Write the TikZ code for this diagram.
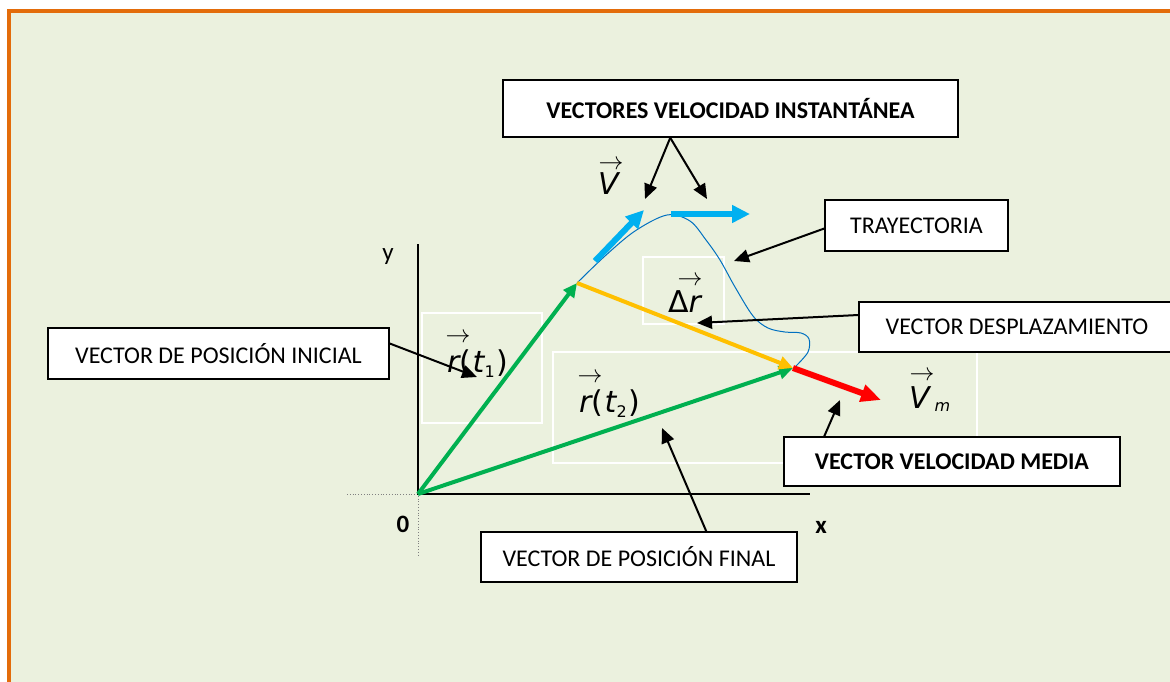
\documentclass[tikz,border=0pt]{standalone}
\usepackage{fontspec}
\setmainfont{Carlito}
\newfontfamily\labfont{DejaVu Sans}
\usetikzlibrary{arrows.meta}
\definecolor{bgc}{HTML}{EBF1DE}
\definecolor{brd}{HTML}{E36C0A}
\definecolor{grn}{HTML}{00B050}
\definecolor{ylw}{HTML}{FFC000}
\definecolor{cyn}{HTML}{00B0F0}
\definecolor{blu}{HTML}{0070C0}
\definecolor{rdd}{HTML}{FF0000}
\begin{document}
\begin{tikzpicture}[x=1pt,y=-1pt,
  lbox/.style={draw=black, line width=1.5pt, fill=white, inner sep=0pt, font=\fontsize{24}{28}\selectfont},
  callout/.style={line width=2pt, -{Triangle[length=15pt,width=13pt]}},
  ghost/.style={draw=white, line width=1.2pt},
  lab/.style={inner sep=0pt, anchor=base west, font=\labfont\fontsize{30}{34}\selectfont},
  vecarr/.style={inner sep=0pt, font=\fontsize{24}{28}\selectfont},
  axlab/.style={inner sep=0pt, anchor=base, font=\fontsize{25}{28}\selectfont},
  garrow/.style={grn, line width=4pt, -{Triangle[length=14pt,width=13pt]}},
  yarrow/.style={ylw, line width=4pt, -{Triangle[length=14pt,width=13pt]}},
  carrow/.style={cyn, line width=6pt, -{Triangle[length=18pt,width=17pt]}},
  rarrow/.style={rdd, line width=6pt, -{Triangle[length=20pt,width=17pt]}}
]
\clip (0,0) rectangle (1170,681);
\fill[white] (0,0) rectangle (1170,681);
\fill[bgc] (9,11) rectangle (1175,690);
\draw[brd, line width=3.7pt] (9.2,690) -- (9.2,10.8) -- (1175,10.8);

% ghost boxes
\draw[ghost] (422,313) rectangle (542,423);
\draw[ghost] (643,257) rectangle (724,324);
\draw[ghost] (553,352) rectangle (977,463);

% axes
\coordinate (O) at (418,494);
\draw[gray, dotted, line width=0.8pt] (347,494) -- (O) -- (418,557);
\draw[black, line width=1.5pt] (418,244) -- (O) -- (810,494);
\node[axlab] (ylab) at (388,260) {y};
\node[axlab] (zlab) at (403,532) {\bfseries 0};
\node[axlab] (xlab) at (821,533) {\bfseries x};

% trajectory
\coordinate (P1) at (577,283);
\coordinate (P2) at (793,368);
\draw[blu, line width=1pt] plot[smooth, tension=0.55] coordinates {(577,283) (605,256) (635,231) (667,215) (690,221) (706,240) (720,260) (735,287) (753,316) (768,328) (785,332) (801,333) (809,339) (808,352) (796,366)};

% vectors
\draw[garrow] (O) -- (P1);
\draw[garrow] (O) -- (P2);
\draw[yarrow] (P1) -- (P2);
\coordinate (VmTip) at (881,400);
\draw[rarrow] (P2) -- (VmTip);
\coordinate (c1a) at (595,261); \coordinate (c1b) at (644,210);
\coordinate (c2a) at (671,214); \coordinate (c2b) at (750,214);
\draw[carrow] (c1a) -- (c1b);
\draw[carrow] (c2a) -- (c2b);

% math labels
\node[lab] (rt1) at (447,372) {{\itshape r}(\kern1.5pt{\itshape t}\raisebox{-5pt}{\fontsize{16}{16}\selectfont 1}\kern2pt)};
\node[vecarr] (rt1a) at (458,338) {$\rightarrow$};
\node[lab] (rt2) at (579,412) {{\itshape r}(\kern1.5pt{\itshape t}\raisebox{-5pt}{\fontsize{16}{16}\selectfont 2}\kern2pt)};
\node[vecarr] (rt2a) at (590,378) {$\rightarrow$};
\node[lab] (dr) at (668,312) {Δ{\itshape r}};
\node[vecarr] (dra) at (690,281) {$\rightarrow$};
\node[lab] (vt) at (598,194) {{\itshape V}};
\node[vecarr] (vta) at (611,165) {$\rightarrow$};
\node[lab] (vm) at (909,408) {{\itshape V}\kern5pt\raisebox{-3pt}{\fontsize{16}{16}\selectfont\itshape m}};
\node[vecarr] (vma) at (922,376) {$\rightarrow$};

% callout boxes
\node[lbox, minimum width=455pt, minimum height=57pt] (inst) at (730.5,108.5) {\bfseries VECTORES VELOCIDAD INSTANTÁNEA};
\node[lbox, minimum width=183pt, minimum height=51pt] (tray) at (916.5,225.5) {TRAYECTORIA};
\node[lbox, minimum width=316pt, minimum height=50pt] (desp) at (1017,327) {VECTOR DESPLAZAMIENTO};
\node[lbox, minimum width=341pt, minimum height=51pt] (inic) at (218.5,353.5) {VECTOR DE POSICIÓN INICIAL};
\node[lbox, minimum width=336pt, minimum height=49pt] (media) at (952,461.5) {\bfseries VECTOR VELOCIDAD MEDIA};
\node[lbox, minimum width=316pt, minimum height=50pt] (fin) at (639,557) {VECTOR DE POSICIÓN FINAL};

% callout arrows
\coordinate (instL) at (645,199);
\coordinate (instR) at (707,199);
\coordinate (trayT) at (734,261);
\coordinate (despT) at (697,323);
\coordinate (inicT) at (477,377);
\coordinate (finT) at (662,428);
\coordinate (medT) at (840,400);
\draw[callout] ([xshift=168pt]inst.south west) -- (instL);
\draw[callout] ([xshift=168pt]inst.south west) -- (instR);
\draw[callout] ([yshift=-3pt]tray.west) -- (trayT);
\draw[callout] ([yshift=12pt]desp.west) -- (despT);
\draw[callout] ([yshift=10pt]inic.east) -- (inicT);
\draw[callout] ([xshift=226pt]fin.north west) -- (finT);
\draw[callout] ([xshift=41pt]media.north west) -- (medT);
\end{tikzpicture}
\end{document}
